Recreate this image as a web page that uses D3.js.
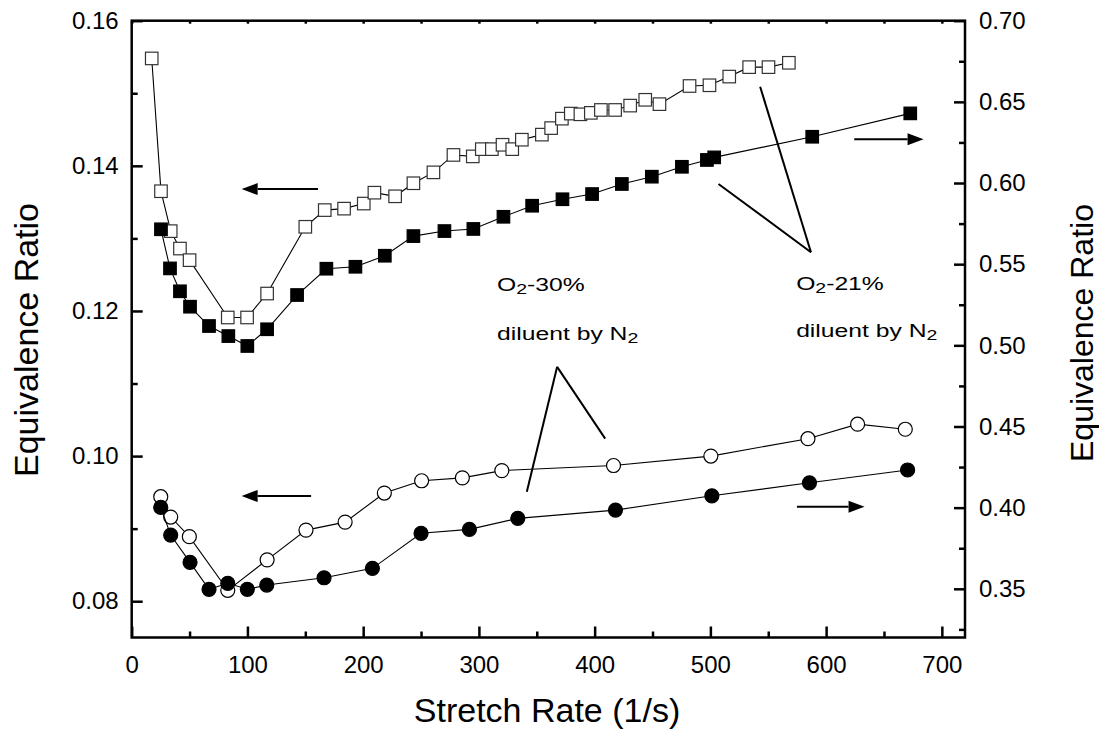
<!DOCTYPE html>
<html>
<head>
<meta charset="utf-8">
<script src="https://cdn.jsdelivr.net/npm/d3@7"></script>
<style>
  html, body { margin: 0; padding: 0; background: #fff; }
  svg { display: block; font-family: "Liberation Sans", Arial, Helvetica, sans-serif; }
</style>
</head>
<body>
<svg id="chart" width="1099" height="731"></svg>
<script>
// Stretch rate (1/s) and equivalence ratio for the four flame series
const o21OpenX = [17.3, 25.3, 33.7, 41.7, 50, 83, 99.7, 117, 150, 166.8, 183.5, 200.5, 209.7, 227.6, 243.4,
  260.7, 278, 294.7, 302.5, 311.2, 320.4, 328.8, 337.1, 354.4, 362.4, 371.7, 379.4, 387.7, 396.7, 405.4,
  417.7, 430.7, 443.7, 456, 482, 499.2, 516.3, 533.5, 550.2, 567.8];
const o21OpenY = [0.1548, 0.1365, 0.1310, 0.1286, 0.1270, 0.1191, 0.1191, 0.1224, 0.1316, 0.1339, 0.1341, 0.1348, 0.1363, 0.1358, 0.1376,
  0.1391, 0.1415, 0.1413, 0.1423, 0.1423, 0.1429, 0.1423, 0.1436, 0.1443, 0.1452, 0.1465, 0.1472, 0.1471, 0.1473, 0.1477,
  0.1477, 0.1483, 0.1491, 0.1485, 0.1510, 0.1511, 0.1523, 0.1536, 0.1536, 0.1542];

const o21FilledX = [25.3, 33.1, 41.7, 50.4, 66.8, 83.5, 99.9, 117, 142.9, 168.2, 193.3, 218.7, 243.4,
  270.2, 295.2, 321.2, 346, 372.2, 397.8, 423.5, 449.4, 475.4, 497, 503.3, 588, 672.7];
const o21FilledY = [0.5715, 0.5474, 0.5333, 0.5238, 0.5119, 0.5057, 0.4996, 0.5099, 0.5310, 0.5472, 0.5484, 0.5552, 0.5673,
  0.5704, 0.5717, 0.5792, 0.5860, 0.5900, 0.5932, 0.5994, 0.6039, 0.6100, 0.6142, 0.6158, 0.6285, 0.6429];

const o30OpenX = [25.1, 33.7, 49.8, 83, 117, 150.6, 184.4, 218.3, 250.5, 285.7, 319.8, 416.3, 500.4, 584.3, 627.2, 668.4];
const o30OpenY = [0.0944, 0.0916, 0.0889, 0.0815, 0.0857, 0.0898, 0.0909, 0.0949, 0.0966, 0.0970, 0.0980, 0.0987, 0.1000, 0.1024, 0.1044, 0.1037];

const o30FilledX = [25.1, 33.7, 50.4, 66.8, 83, 99.9, 116.7, 166.2, 208, 250, 291.8, 333.6, 418, 501.3, 585.6, 670.4];
const o30FilledY = [0.4002, 0.3831, 0.3663, 0.3497, 0.3534, 0.3497, 0.3523, 0.3568, 0.3626, 0.3842, 0.3866, 0.3934, 0.3985, 0.4073, 0.4153, 0.4232];

// Axis ticks
const xMajor = [0, 100, 200, 300, 400, 500, 600, 700];
const xMinor = [50, 150, 250, 350, 450, 550, 650];
const yLeftMajor = [0.08, 0.10, 0.12, 0.14, 0.16];
const yLeftMinor = [0.09, 0.11, 0.13, 0.15];
const yRightMajor = [0.35, 0.40, 0.45, 0.50, 0.55, 0.60, 0.65, 0.70];
const yRightMinor = [0.325, 0.375, 0.425, 0.475, 0.525, 0.575, 0.625, 0.675];

const svg = d3.select("#chart");
const plot = { left: 131.7, right: 965, top: 20.7, bottom: 637.5 };

const x = d3.scaleLinear().domain([0, 720]).range([plot.left, plot.right]);
const yL = d3.scaleLinear().domain([0.075, 0.16]).range([plot.bottom, plot.top]);
const yR = d3.scaleLinear().domain([0.32, 0.70]).range([plot.bottom, plot.top]);

const fmt2 = d3.format(".2f");

function styleAxis(g) {
  g.select(".domain").remove();
  g.selectAll(".tick line").attr("stroke", "#000").attr("stroke-width", 2.5);
  g.selectAll(".tick text").attr("fill", "#000").style("font-size", "24px")
    .style("font-family", "'Liberation Sans', Arial, sans-serif");
}

// bottom axis
svg.append("g").attr("transform", `translate(0,${plot.bottom})`)
  .call(d3.axisBottom(x).tickValues(xMajor).tickSize(-11).tickPadding(18).tickFormat(d3.format("d")))
  .call(styleAxis);
svg.append("g").attr("transform", `translate(0,${plot.bottom})`)
  .call(d3.axisBottom(x).tickValues(xMinor).tickSize(-6).tickFormat(""))
  .call(styleAxis);
// top axis (ticks only)
svg.append("g").attr("transform", `translate(0,${plot.top})`)
  .call(d3.axisTop(x).tickValues(xMajor.concat(xMinor)).tickSize(-3).tickFormat(""))
  .call(styleAxis);
// left axis
svg.append("g").attr("transform", `translate(${plot.left},0)`)
  .call(d3.axisLeft(yL).tickValues(yLeftMajor).tickSize(-11).tickPadding(13).tickFormat(fmt2))
  .call(styleAxis);
svg.append("g").attr("transform", `translate(${plot.left},0)`)
  .call(d3.axisLeft(yL).tickValues(yLeftMinor).tickSize(-6).tickFormat(""))
  .call(styleAxis);
// right axis
svg.append("g").attr("transform", `translate(${plot.right},0)`)
  .call(d3.axisRight(yR).tickValues(yRightMajor).tickSize(-11).tickPadding(14).tickFormat(fmt2))
  .call(styleAxis);
svg.append("g").attr("transform", `translate(${plot.right},0)`)
  .call(d3.axisRight(yR).tickValues(yRightMinor).tickSize(-6).tickFormat(""))
  .call(styleAxis);

// frame
svg.append("rect")
  .attr("x", plot.left).attr("y", plot.top)
  .attr("width", plot.right - plot.left).attr("height", plot.bottom - plot.top)
  .attr("fill", "none").attr("stroke", "#000").attr("stroke-width", 2.5);

// axis titles
svg.append("text").attr("x", 547).attr("y", 722).attr("text-anchor", "middle")
  .style("font-size", "34px").text("Stretch Rate (1/s)");
svg.append("text").attr("transform", "translate(38,340) rotate(-90)").attr("text-anchor", "middle")
  .style("font-size", "34px").text("Equivalence Ratio");
svg.append("text").attr("transform", "translate(1093,333) rotate(-90)").attr("text-anchor", "middle")
  .style("font-size", "32px").text("Equivalence Ratio");

// series
function drawSeries(xs, ys, yScale, shape, filled) {
  const pts = xs.map((v, i) => [x(v), yScale(ys[i])]);
  svg.append("path").attr("d", d3.line()(pts))
    .attr("fill", "none").attr("stroke", "#000").attr("stroke-width", 1.1);
  const g = svg.append("g");
  if (shape === "square") {
    const s = 12.5;
    g.selectAll("rect").data(pts).join("rect")
      .attr("x", d => d[0] - s / 2).attr("y", d => d[1] - s / 2)
      .attr("width", s).attr("height", s)
      .attr("fill", filled ? "#000" : "#fff")
      .attr("stroke", filled ? "#000" : "#333").attr("stroke-width", 1.2);
  } else {
    g.selectAll("circle").data(pts).join("circle")
      .attr("cx", d => d[0]).attr("cy", d => d[1]).attr("r", 7)
      .attr("fill", filled ? "#000" : "#fff")
      .attr("stroke", "#000").attr("stroke-width", 1.2);
  }
}

drawSeries(o21OpenX, o21OpenY, yL, "square", false);
drawSeries(o21FilledX, o21FilledY, yR, "square", true);
drawSeries(o30OpenX, o30OpenY, yL, "circle", false);
drawSeries(o30FilledX, o30FilledY, yR, "circle", true);

// arrows showing which axis each pair of curves belongs to
function arrow(x1, x2, yv, yScale) {
  const px1 = x(x1), px2 = x(x2), py = yScale(yv);
  const dir = Math.sign(px2 - px1);
  const head = 16, half = 6;
  svg.append("line").attr("x1", px1).attr("x2", px2 - dir * head).attr("y1", py).attr("y2", py)
    .attr("stroke", "#000").attr("stroke-width", 2);
  svg.append("path")
    .attr("d", `M${px2},${py} L${px2 - dir * head},${py - half} L${px2 - dir * head},${py + half} Z`)
    .attr("fill", "#000");
}
arrow(161, 95, 0.1368, yL);
arrow(155, 95, 0.0945, yL);
arrow(624.3, 684.2, 0.6269, yR);
arrow(574.8, 633.2, 0.4006, yR);

// annotation pointer lines
function pointer(apex, ends) {
  ends.forEach(e => {
    svg.append("line")
      .attr("x1", x(apex[0])).attr("y1", yL(apex[1]))
      .attr("x2", x(e[0])).attr("y2", yL(e[1]))
      .attr("stroke", "#000").attr("stroke-width", 2);
  });
}
pointer([586.9, 0.1281], [[543, 0.1509], [507, 0.1375]]);
pointer([367.6, 0.1123], [[341.4, 0.0951], [409.1, 0.1024]]);

// annotation labels (text with a subscript digit)
function label(xv, yv, before, sub, after) {
  const t = svg.append("text")
    .attr("transform", `translate(${x(xv)},${yL(yv)}) scale(1.3,1)`)
    .style("font-size", "19px");
  t.append("tspan").text(before);
  t.append("tspan").attr("dy", 3).style("font-size", "15px").text(sub);
  if (after) t.append("tspan").attr("dy", -3).text(after);
}
label(315.7, 0.1227, "O", "2", "-30%");
label(315.7, 0.1160, "diluent by N", "2", "");
label(574.1, 0.1229, "O", "2", "-21%");
label(574.1, 0.1164, "diluent by N", "2", "");
</script>
</body>
</html>
